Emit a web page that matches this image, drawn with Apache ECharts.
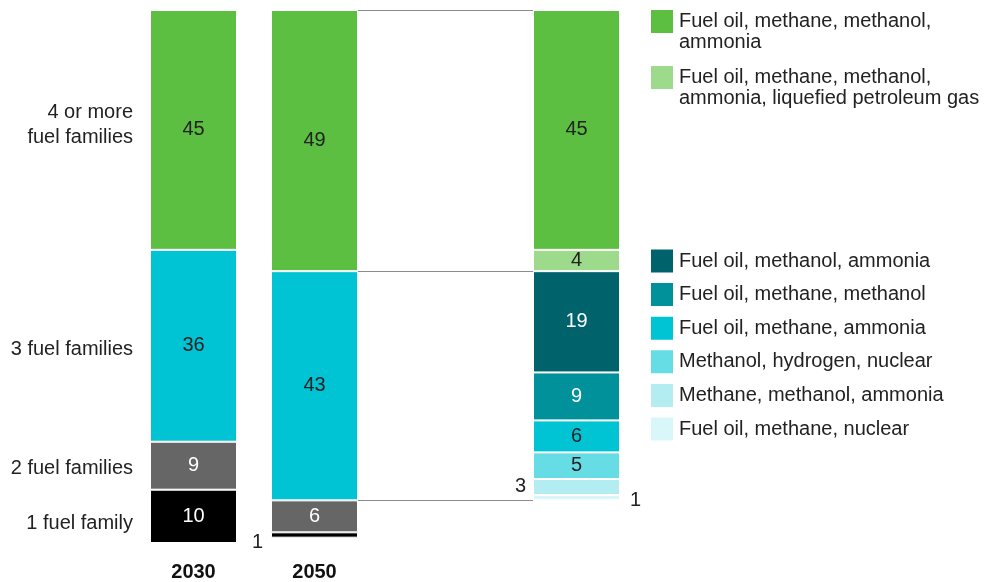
<!DOCTYPE html>
<html><head><meta charset="utf-8">
<script src="https://cdn.jsdelivr.net/npm/echarts@6/dist/echarts.min.js"></script>
<style>html,body{margin:0;padding:0;background:#fff}#c{width:997px;height:582px}</style>
</head><body><div id="c"></div>
<script>
// ---- data ----
const years = ['2030', '2050'];
const fourPlusFamilies = [45, 49];
const threeFamilies = [36, 43];
const twoFamilies = [9, 6];
const oneFamily = [10, 1];
const familyLabels = ['4 or more\nfuel families', '3 fuel families', '2 fuel families', '1 fuel family'];
const breakdownNames = [
  'Fuel oil, methane, methanol,\nammonia',
  'Fuel oil, methane, methanol,\nammonia, liquefied petroleum gas',
  'Fuel oil, methanol, ammonia',
  'Fuel oil, methane, methanol',
  'Fuel oil, methane, ammonia',
  'Methanol, hydrogen, nuclear',
  'Methane, methanol, ammonia',
  'Fuel oil, methane, nuclear'
];
const breakdown2050 = [45, 4, 19, 9, 6, 5, 3, 1];

// ---- styles ----
const FONT = 'Liberation Sans';
const FS = 20;
const TXT = '#222';
const familyColors = ['#5cbf42', '#00c4d3', '#666666', '#000000'];
const familyLabelColors = [TXT, TXT, '#fff', '#fff'];
const breakdownColors = ['#5cbf42', '#9dda8c', '#00626a', '#00919b', '#00c4d3', '#66dce4', '#b3edf1', '#d9f6f8'];
const breakdownLabelColors = [TXT, TXT, '#fff', '#fff', TXT, TXT, TXT, TXT];

const familySeriesData = [fourPlusFamilies, threeFamilies, twoFamilies, oneFamily];

const series = [];
familySeriesData.forEach((arr, i) => {
  series.push({
    type: 'bar', name: familyLabels[i].replace('\n', ' '), stack: 'fam',
    xAxisIndex: 0, yAxisIndex: 0, barWidth: 87,
    itemStyle: { color: familyColors[i], borderColor: '#fff', borderWidth: 1 },
    label: { show: true, position: 'inside', fontFamily: FONT, fontSize: FS, color: familyLabelColors[i] },
    data: arr.map((v, j) => {
      if (i === 3 && j === 1) {
        return { value: v, label: { position: 'left', distance: 8, offset: [0, 7], color: TXT } };
      }
      return v;
    })
  });
});

// family category labels beside the 2030 bar
let cum = 0;
const familyMids = familySeriesData.map(arr => { const m = cum + arr[0] / 2; cum += arr[0]; return m; });
const labelOffsets = [[0, -5], [0, 4], [0, 3], [0, 7]];
series.push({
  type: 'scatter', xAxisIndex: 0, yAxisIndex: 0, silent: true,
  symbol: 'circle', symbolSize: 1, itemStyle: { color: 'rgba(0,0,0,0)', opacity: 1 }, z: 5,
  data: familyMids.map((m, i) => ({
    value: [0, m],
    label: { offset: labelOffsets[i] }
  })),
  label: {
    show: true, position: 'left', distance: 60, align: 'right',
    fontFamily: FONT, fontSize: FS, color: TXT, lineHeight: 25,
    formatter: p => familyLabels[p.dataIndex]
  }
});

// 2050 breakdown bar
breakdown2050.forEach((v, i) => {
  let d = v;
  if (i === 6) d = { value: v, label: { position: 'left', distance: 7, offset: [0, -1], color: TXT } };
  if (i === 7) d = { value: v, label: { position: 'right', distance: 10, offset: [0, 3], color: TXT } };
  series.push({
    type: 'bar', name: breakdownNames[i], stack: 'brk',
    xAxisIndex: 1, yAxisIndex: 1, barWidth: 87,
    itemStyle: { color: breakdownColors[i], borderColor: '#fff', borderWidth: 1 },
    label: { show: true, position: 'inside', fontFamily: FONT, fontSize: FS, color: breakdownLabelColors[i] },
    data: [d]
  });
});

// connector lines
const boundaries = [0, fourPlusFamilies[1], fourPlusFamilies[1] + threeFamilies[1]];
series.push({
  type: 'lines', coordinateSystem: 'cartesian2d', xAxisIndex: 2, yAxisIndex: 2,
  silent: true, polyline: false,
  lineStyle: { color: '#8c8c8c', width: 1, opacity: 1 },
  data: boundaries.map(v => ({ coords: [[0, v], [1, v]] }))
});

const yAx = i => ({ type: 'value', gridIndex: i, min: 0, max: 100, inverse: true, show: false });

const option = {
  animation: false,
  backgroundColor: '#fff',
  grid: [
    { left: 133, width: 242, top: 10, height: 533 },
    { left: 533, width: 87, top: 10, height: 533 },
    { left: 358, width: 175, top: 10, height: 533 }
  ],
  xAxis: [
    { type: 'category', gridIndex: 0, data: years,
      axisLine: { show: false }, axisTick: { show: false }, splitLine: { show: false },
      axisLabel: { fontFamily: FONT, fontSize: FS, fontWeight: 'bold', color: '#111', margin: 19 } },
    { type: 'category', gridIndex: 1, data: ['2050'], show: false },
    { type: 'value', gridIndex: 2, min: 0, max: 1, show: false }
  ],
  yAxis: [yAx(0), yAx(1), yAx(2)],
  legend: [
    { data: breakdownNames.slice(0, 2), orient: 'vertical', left: 649, top: -10, padding: 0,
      itemWidth: 24, itemHeight: 25, itemGap: -7, icon: 'rect', selectedMode: false,
      formatter: n => '\n' + n,
      textStyle: { fontFamily: FONT, fontSize: FS, color: TXT, lineHeight: 21 } },
    { data: breakdownNames.slice(2), orient: 'vertical', left: 649, top: 247.5, padding: 0,
      itemWidth: 24, itemHeight: 25, itemGap: 6.6, icon: 'rect', selectedMode: false,
      textStyle: { fontFamily: FONT, fontSize: FS, color: TXT, lineHeight: 20 } }
  ],
  series: series
};

const chart = echarts.init(document.getElementById('c'), null, { renderer: 'canvas' });
chart.setOption(option);
</script>
</body></html>
